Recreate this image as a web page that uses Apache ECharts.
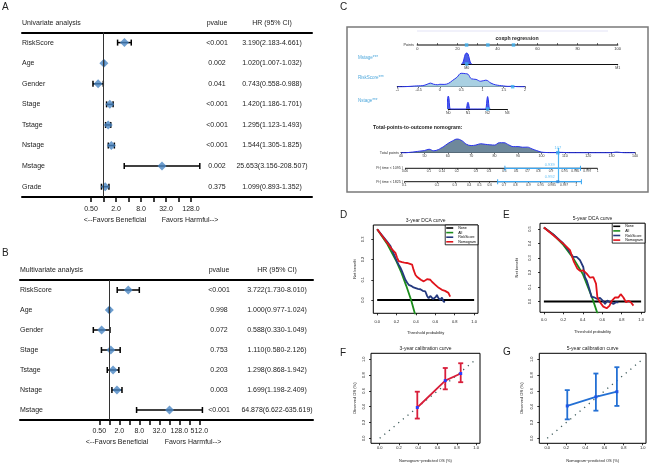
<!DOCTYPE html>
<html><head><meta charset="utf-8">
<script src="https://cdn.jsdelivr.net/npm/echarts@6.0.0/dist/echarts.min.js"></script>
<style>html,body{margin:0;padding:0;background:#fff;}#chart{width:650px;height:465px;}</style>
</head><body><div id="chart"></div>
<script>
// ================= DATA =================
// Panel A – univariate Cox regression
const uniVars  = ['RiskScore','Age','Gender','Stage','Tstage','Nstage','Mstage','Grade'];
const uniHR    = [3.190, 1.020, 0.743, 1.420, 1.295, 1.544, 25.653, 1.099];
const uniLow   = [2.183, 1.007, 0.558, 1.186, 1.123, 1.305, 3.156, 0.893];
const uniHigh  = [4.661, 1.032, 0.988, 1.701, 1.493, 1.825, 208.507, 1.352];
const uniP     = ['<0.001','0.002','0.041','<0.001','<0.001','<0.001','0.002','0.375'];
// Panel B – multivariate Cox regression
const multiVars = ['RiskScore','Age','Gender','Stage','Tstage','Nstage','Mstage'];
const multiHR   = [3.722, 1.000, 0.588, 1.110, 1.298, 1.699, 64.878];
const multiLow  = [1.730, 0.977, 0.330, 0.580, 0.868, 1.198, 6.622];
const multiHigh = [8.010, 1.024, 1.049, 2.126, 1.942, 2.409, 635.619];
const multiP    = ['<0.001','0.998','0.072','0.753','0.203','0.003','<0.001'];
// forest axis ticks / labels
const forestTicksA  = [0.5,1,2,4,8,16,32,64,128];
const forestLabA    = [0.5,2,8,32,128];
const forestLabTxtA = ['0.50','2.0','8.0','32.0','128.0'];
const forestTicksB  = [0.5,1,2,4,8,16,32,64,128,256,512];
const forestLabB    = [0.5,2,8,32,128,512];
const forestLabTxtB = ['0.50','2.0','8.0','32.0','128.0','512.0'];

// Panel C – nomogram
const pointsTicks  = [0,10,20,30,40,50,60,70,80,90,100];
const pointsLabels = [0,20,40,60,80,100];
const ptsObs       = [24.6, 48.0, 35.2];     // points of the example patient
const mstageLevels = ['M0','M1'];
const mstageDens   = [[-0.035,0],[-0.026,1],[-0.018,5],[-0.009,10],[0,11],[0.009,10],[0.018,5],[0.026,1],[0.035,0]];
const mstageObs    = 0;
const riskDens     = [[-1,0],[-0.9,0],[-0.8,0.1],[-0.7,0.3],[-0.6,0.6],[-0.5,0.8],[-0.4,1],[-0.3,2.2],[-0.22,3.3],[-0.15,2.3],[-0.05,1.8],[0,2.2],[0.1,2.1],[0.2,3],[0.3,5.8],[0.4,8.6],[0.5,12.3],[0.6,12],[0.66,11.5],[0.74,7.3],[0.85,6.7],[0.96,5],[1.08,6],[1.2,3.3],[1.31,1.7],[1.5,0.7],[1.6,0.3],[1.7,0.4],[1.8,0.1],[2,0]];
const riskObs      = 1.71;
const nstageLevels = ['N0','N1','N2','N3'];
const nstageDens   = [[-0.12,0],[-0.07,2],[-0.035,10],[0,12.5],[0.035,10],[0.07,2],[0.12,0],[0.88,0],[0.93,1],[0.965,5],[1,6.5],[1.035,5],[1.07,1],[1.12,0],[1.88,0],[1.93,2],[1.965,9],[2,12],[2.035,9],[2.07,2],[2.12,0]];
const nstageObs    = 2;
const totalDens    = [[40,0],[42,0],[44,0.4],[46,0.9],[48,1.5],[50,2],[52,3.3],[54,1.8],[56,3],[57,4.3],[58,5.5],[60,8.7],[62,11.2],[64,13],[66,11.5],[68,8],[70,6.8],[72,7.3],[74,8.5],[76,8],[78,7.5],[80,7.3],[82,9.5],[84,9.5],[86,7.5],[88,5.8],[90,5.8],[92,5.2],[94,5.3],[96,3.6],[98,2],[100,0.6],[102,0.2],[104,0.1],[106,0.1],[108,0.3],[110,0.2],[112,0],[130,0],[132,0.6],[134,0.2],[136,0],[140,0]];
const totalObs     = 107;
const pr1095Labels = ['0.06','0.1','0.14','0.2','0.3','0.4','0.5','0.6','0.7','0.8','0.9','0.95','0.985','0.997','1'];
const pr1095Pos    = [41.7,51.9,57.5,63.9,72.0,77.6,84.2,89.2,94.1,98.7,104.1,109.9,114.5,119.6,124.0];
const pr1825Labels = ['0.1','0.2','0.3','0.4','0.5','0.6','0.7','0.8','0.9','0.95','0.985','0.997','1'];
const pr1825Pos    = [41.4,55.4,63.0,69.1,73.5,77.9,84.0,88.9,94.5,99.7,104.4,109.7,114.8];
const prCiLow      = [84.4, 81.3];
const prCiHigh     = [116.7, 117.1];
const prObsText    = ['0.939', '0.992'];

// Panel D – 3-year DCA
const dca3None  = [[0,0],[1,0]];
const dca3All   = [[0,0.35],[0.1,0.28],[0.2,0.19],[0.25,0.135],[0.3,0.07],[0.35,0.0],[0.39,-0.07],[0.41,-0.1]];
const dca3Risk  = [[0,0.35],[0.05,0.32],[0.1,0.29],[0.137,0.267],[0.16,0.24],[0.188,0.208],[0.205,0.19],[0.222,0.175],[0.24,0.16],[0.257,0.142],[0.275,0.12],[0.291,0.1],[0.31,0.085],[0.325,0.075],[0.35,0.07],[0.375,0.062],[0.394,0.063],[0.42,0.055],[0.445,0.053],[0.47,0.045],[0.497,0.042],[0.515,0.02],[0.531,0.008],[0.548,0.02],[0.565,0.017],[0.575,0.005],[0.589,0.0],[0.605,0.015],[0.616,0.025],[0.63,0.01],[0.651,0.0],[0.668,0.012],[0.685,-0.008],[0.7,-0.01]];
const dca3Nomo  = [[0,0.35],[0.05,0.318],[0.1,0.285],[0.154,0.25],[0.17,0.245],[0.188,0.233],[0.205,0.21],[0.222,0.192],[0.24,0.19],[0.257,0.187],[0.28,0.185],[0.308,0.183],[0.33,0.18],[0.36,0.175],[0.375,0.15],[0.394,0.125],[0.41,0.115],[0.428,0.108],[0.45,0.1],[0.48,0.092],[0.5,0.1],[0.514,0.103],[0.53,0.1],[0.548,0.1],[0.565,0.09],[0.582,0.083],[0.6,0.075],[0.616,0.067],[0.635,0.06],[0.651,0.053],[0.668,0.05],[0.685,0.047],[0.7,0.045],[0.719,0.042],[0.735,0.035],[0.753,0.017]];
// Panel E – 5-year DCA
const dca5None  = [[0,0],[1,0]];
const dca5All   = [[0,0.51],[0.1,0.46],[0.2,0.39],[0.3,0.3],[0.4,0.19],[0.5,0.02],[0.56,-0.1]];
const dca5Risk  = [[0,0.51],[0.1,0.46],[0.2,0.40],[0.25,0.355],[0.3,0.308],[0.337,0.308],[0.371,0.285],[0.405,0.238],[0.422,0.169],[0.44,0.146],[0.467,0.088],[0.491,0.03],[0.515,0.03],[0.55,0.018],[0.577,0.025],[0.605,0.007],[0.629,-0.016],[0.653,0.007],[0.68,-0.005],[0.715,-0.016],[0.742,-0.005],[0.766,-0.005]];
const dca5Nomo  = [[0,0.51],[0.1,0.455],[0.216,0.389],[0.268,0.354],[0.309,0.273],[0.344,0.227],[0.371,0.211],[0.405,0.215],[0.44,0.192],[0.474,0.164],[0.508,0.169],[0.536,0.123],[0.55,0.03],[0.577,-0.005],[0.611,-0.035],[0.646,-0.046],[0.674,-0.03],[0.698,0.005],[0.732,0.028],[0.766,0.028],[0.79,0.051],[0.818,0.028],[0.845,-0.005],[0.87,0.005],[0.894,-0.005],[0.921,-0.028]];
const dcaNames  = ['None','All','RiskScore','Nomogram'];
const dcaTicksX = [0,0.2,0.4,0.6,0.8,1.0];
const dca3TicksY = [0,0.1,0.2,0.3];
const dca5TicksY = [0,0.1,0.2,0.3,0.4,0.5];
// Panels F, G – calibration
const calTicks  = [0,0.2,0.4,0.6,0.8,1.0];
const calDiag   = [[0,0],[1,1]];
const cal3Pred  = [0.39, 0.68, 0.84];
const cal3Obs   = [0.39, 0.73, 0.82];
const cal3Low   = [0.25, 0.62, 0.71];
const cal3High  = [0.59, 0.89, 0.95];
const cal5Pred  = [0.21, 0.51, 0.73];
const cal5Obs   = [0.41, 0.525, 0.59];
const cal5Low   = [0.24, 0.35, 0.41];
const cal5High  = [0.61, 0.82, 0.90];

// ================= BUILD =================
const FONT = 'Liberation Sans, Arial, Helvetica, sans-serif';
const grids = [], xAxes = [], yAxes = [], series = [], graphics = [], legends = [];
const LBLUE = '#3fb2f2';

function T(x, y, text, size, o) {
  o = o || {};
  const al = o.align || 'left';
  graphics.push({type:'text', x:x, y:y, silent:true, z:50,
    style:{text:text, fontSize:size, fontFamily:FONT, fontWeight:o.bold?'bold':'normal', fill:o.color||'#222',
      align:al, verticalAlign:'middle', textAlign:al, textVerticalAlign:'middle'}});
}

function addGrid(box, xo, yo) {
  const gi = grids.length;
  grids.push({left:box[0], top:box[2], width:box[1]-box[0], height:box[3]-box[2]});
  const xi = xAxes.length;
  xAxes.push(Object.assign({gridIndex:gi, type:'value', splitLine:{show:false}}, xo));
  const yi = yAxes.length;
  yAxes.push(Object.assign({gridIndex:gi, type:'value', splitLine:{show:false}}, yo));
  return {gi:gi, xi:xi, yi:yi};
}

// ---------- forest plots ----------
function ciH(params, api) {
  const y = api.value(2);
  const p1 = api.coord([api.value(0), y]);
  const p2 = api.coord([api.value(1), y]);
  const h = 3, st = {stroke:'#000', lineWidth:1.5};
  return {type:'group', children:[
    {type:'line', shape:{x1:p1[0],y1:p1[1],x2:p2[0],y2:p2[1]}, style:st},
    {type:'line', shape:{x1:p1[0],y1:p1[1]-h,x2:p1[0],y2:p1[1]+h}, style:st},
    {type:'line', shape:{x1:p2[0],y1:p2[1]-h,x2:p2[0],y2:p2[1]+h}, style:st}]};
}
function forest(c) {
  const gi = grids.length;
  grids.push({left:c.left, top:c.top, width:c.right-c.left, height:c.bottom-c.top});
  const tickV = c.ticks.map(Math.log2), labV = c.labTicks.map(Math.log2);
  const xi = xAxes.length;
  xAxes.push({gridIndex:gi, type:'value', min:c.xmin, max:c.xmax, splitLine:{show:false},
    axisLine:{show:true,onZero:false,lineStyle:{color:'#000',width:2}},
    axisTick:{show:true,customValues:tickV,length:5,lineStyle:{color:'#000',width:1.5}},
    axisLabel:{show:true,customValues:labV,margin:c.lm,fontSize:7,color:'#222',fontFamily:FONT,
      formatter:function(v){const k=labV.findIndex(t=>Math.abs(t-v)<1e-6);return k>=0?c.labTxt[k]:'';}}});
  xAxes.push({gridIndex:gi, type:'value', position:'top', min:0, max:1, splitLine:{show:false},
    axisLine:{show:true,onZero:false,lineStyle:{color:'#000',width:2}}, axisTick:{show:false}, axisLabel:{show:false}});
  const yi = yAxes.length;
  const idx = c.vars.map((_,i)=>String(i));
  const hrTxt = c.hr.map((h,i)=>h.toFixed(3)+'('+c.lo[i].toFixed(3)+'-'+c.hi[i].toFixed(3)+')');
  const lab = {margin:0, interval:0, fontSize:7, color:'#222', fontFamily:FONT};
  function base(extra){ return Object.assign({gridIndex:gi, type:'category', inverse:true, data:idx,
    axisLine:{show:false}, axisTick:{show:false}, splitLine:{show:false}}, extra); }
  yAxes.push(base({axisLabel:Object.assign({}, lab, {inside:true, align:'left', formatter:(v,i)=>c.vars[i]})}));
  yAxes.push(base({position:'right', offset:c.pOff, axisLabel:Object.assign({}, lab, {align:'center', formatter:(v,i)=>c.p[i]})}));
  yAxes.push(base({position:'right', offset:c.hOff, axisLabel:Object.assign({}, lab, {align:'center', formatter:(v,i)=>hrTxt[i]})}));
  series.push({type:'custom', xAxisIndex:xi, yAxisIndex:yi, renderItem:ciH, silent:true, z:2,
    encode:{x:[0,1], y:2}, data:c.lo.map((l,i)=>[Math.log2(l), Math.log2(c.hi[i]), i])});
  series.push({type:'scatter', xAxisIndex:xi, yAxisIndex:yi, symbol:'diamond', symbolSize:[9,9], silent:true, z:3,
    itemStyle:{color:'#4a86c3'}, data:c.hr.map((h,i)=>[Math.log2(h), i]),
    markLine:{silent:true, symbol:['none','none'], label:{show:false}, animation:false,
      lineStyle:{color:'#333', width:1, type:'solid'}, data:[{xAxis:0}]}});
  T(c.left, c.headY, c.title, 7);
  T(c.right + c.pOff, c.headY, 'pvalue', 7, {align:'center'});
  T(c.right + c.hOff, c.headY, 'HR (95% CI)', 7, {align:'center'});
  T(c.benX, c.favY, '<--Favors Beneficial', 7, {align:'center'});
  T(c.harmX, c.favY, 'Favors Harmful-->', 7, {align:'center'});
}

forest({left:22, right:312, top:32.3, bottom:197, xmin:-6.52, xmax:16.68, lm:9,
  ticks:forestTicksA, labTicks:forestLabA, labTxt:forestLabTxtA,
  vars:uniVars, hr:uniHR, lo:uniLow, hi:uniHigh, p:uniP, pOff:-95, hOff:-40,
  title:'Univariate analysis', headY:23.3, favY:220, benX:115, harmX:190});
forest({left:20, right:313, top:280, bottom:420, xmin:-8.93, xmax:20.37, lm:8,
  ticks:forestTicksB, labTicks:forestLabB, labTxt:forestLabTxtB,
  vars:multiVars, hr:multiHR, lo:multiLow, hi:multiHigh, p:multiP, pOff:-94, hOff:-36,
  title:'Multivariate analysis', headY:270, favY:441.7, benX:117, harmX:193});

// ---------- nomogram ----------
graphics.push({type:'rect', silent:true, z:1, shape:{x:347, y:27, width:301, height:165},
  style:{fill:'none', stroke:'#7a7a7a', lineWidth:1.5}});
graphics.push({type:'line', silent:true, z:1, shape:{x1:417, y1:31, x2:608, y2:31},
  style:{stroke:'#dcdcf4', lineWidth:0.8}});
T(517, 39, 'coxph regression', 5.2, {align:'center', bold:true});
const nLab = {fontSize:3.6, margin:1.5, color:'#333', fontFamily:FONT};
const nLine = {show:true, onZero:false, lineStyle:{color:'#111', width:1}};
const nTick = {show:true, length:1.5, lineStyle:{color:'#111', width:0.6}};
function dens(ax, data, fill, sm) {
  series.push({type:'line', xAxisIndex:ax.xi, yAxisIndex:ax.yi, data:data, symbol:'none', smooth:sm, clip:false, silent:true,
    lineStyle:{color:'#2b34ee', width:1}, areaStyle:{color:fill, opacity:1}, z:2});
}
function mark(ax, data, color, size, label) {
  const s = {type:'scatter', xAxisIndex:ax.xi, yAxisIndex:ax.yi, data:data, symbol:'rect', symbolSize:size, clip:false, silent:true,
    itemStyle:{color:color}, z:5};
  if (label) s.label = label;
  series.push(s);
}
// Points
const axPts = addGrid([417.3,617.7,35,45],
  {min:0, max:100, axisLine:{show:true,onZero:false,lineStyle:{color:'#555',width:1.5}},
   axisTick:Object.assign({}, nTick, {customValues:pointsTicks, inside:true, length:2}),
   axisLabel:Object.assign({}, nLab, {customValues:pointsLabels, fontSize:4})},
  {show:false, min:0, max:1});
mark(axPts, ptsObs.map(v=>[v,0]), LBLUE, 3.5);
T(414, 45, 'Points', 3.8, {align:'right', color:'#333'});
// Mstage
const axM = addGrid([461.4,617.7,52,64],
  {min:-0.035, max:1, axisLine:nLine, axisTick:Object.assign({}, nTick, {customValues:[0,1]}),
   axisLabel:Object.assign({}, nLab, {customValues:[0,1], formatter:v=>mstageLevels[Math.round(v)]})},
  {show:false, min:0, max:12});
dens(axM, mstageDens, '#4a5fe6', 0.3);
mark(axM, [[mstageObs,0]], LBLUE, 3.5);
T(358, 58, 'Mstage***', 4.5, {color:'#4fa8dc'});
// RiskScore
const axR = addGrid([397.3,525,72,86.7],
  {min:-1, max:2, interval:0.5, axisLine:nLine, axisTick:nTick,
   axisLabel:Object.assign({}, nLab, {formatter:v=>String(v)})},
  {show:false, min:0, max:13.5});
dens(axR, riskDens, '#a9d0e2', 0.4);
mark(axR, [[riskObs,0]], LBLUE, 3.5);
T(358, 78, 'RiskScore***', 4.5, {color:'#4fa8dc'});
// Nstage
const axN = addGrid([448.3,507.3,95,109],
  {min:0, max:3, interval:1, axisLine:nLine, axisTick:nTick,
   axisLabel:Object.assign({}, nLab, {formatter:v=>nstageLevels[Math.round(v)]})},
  {show:false, min:0, max:13.5});
dens(axN, nstageDens, '#4a5fe6', 0.3);
mark(axN, [[nstageObs,0]], LBLUE, 3.5);
T(358, 101, 'Nstage***', 4.5, {color:'#4fa8dc'});
// Total points
T(373, 128, 'Total-points-to-outcome nomogram:', 5.2, {bold:true});
const axObs = addGrid([401,635,148,182], {show:false, min:40, max:140}, {show:false, min:0, max:1});
series.push({type:'scatter', xAxisIndex:axObs.xi, yAxisIndex:axObs.yi, data:[[totalObs,1]], symbolSize:0, silent:true,
  markLine:{silent:true, symbol:['none','none'], label:{show:false}, animation:false,
    lineStyle:{color:'#4cb4f5', width:1.2, type:'solid'}, data:[{xAxis:totalObs}]}});
const axT = addGrid([401,635,138,152.7],
  {min:40, max:140, interval:10, axisLine:nLine, axisTick:nTick, axisLabel:nLab},
  {show:false, min:0, max:14});
dens(axT, totalDens, '#6e889b', 0.4);
mark(axT, [[totalObs,0]], '#3aa8f0', 3.5,
  {show:true, formatter:String(totalObs), position:'top', distance:1.5, fontSize:4, color:LBLUE, fontFamily:FONT});
T(399, 152.7, 'Total points', 3.8, {align:'right', color:'#333'});
// Pr axes
function prRow(box, pos, labels, k, name) {
  const ax = addGrid(box,
    {min:40, max:140, axisLine:{show:false, onZero:false},
     axisTick:Object.assign({}, nTick, {customValues:pos}),
     axisLabel:Object.assign({}, nLab, {customValues:pos, fontSize:3.2,
       formatter:function(v){const i=pos.findIndex(t=>Math.abs(t-v)<1e-6);return i>=0?labels[i]:'';}})},
    {show:false, min:0, max:1});
  series.push({type:'line', xAxisIndex:ax.xi, yAxisIndex:ax.yi, data:[[pos[0],0],[pos[pos.length-1],0]],
    symbol:'none', silent:true, clip:false, lineStyle:{color:'#111', width:1}, z:2});
  series.push({type:'line', xAxisIndex:ax.xi, yAxisIndex:ax.yi, data:[[prCiLow[k],0],[prCiHigh[k],0]],
    symbol:'rect', symbolSize:[1,5], showSymbol:true, silent:true, clip:false,
    lineStyle:{color:'#39a6f2', width:1.3}, itemStyle:{color:'#39a6f2'}, z:3});
  mark(ax, [[totalObs,0]], k===1 ? '#2f86d8' : 'rgba(0,0,0,0)', k===1 ? 3 : 0,
    {show:true, formatter:prObsText[k], position:'top', distance:1.5, offset:[-8,0], fontSize:4, color:LBLUE, fontFamily:FONT});
  T(403, box[3], name, 3.6, {align:'right', color:'#333'});
}
prRow([401,635,160,168.3], pr1095Pos, pr1095Labels, 0, 'Pr( time < 1095 )');
prRow([401,635,173.4,181.7], pr1825Pos, pr1825Labels, 1, 'Pr( time < 1825 )');

// ---------- R-style panels ----------
function rplot(c) {
  const gi = grids.length;
  grids.push({left:c.box[0], top:c.box[2], width:c.box[1]-c.box[0], height:c.box[3]-c.box[2],
    show:true, borderColor:'#000', borderWidth:1, backgroundColor:'rgba(0,0,0,0)'});
  const lab = {fontSize:4, color:'#222', fontFamily:FONT};
  const xi = xAxes.length;
  xAxes.push({gridIndex:gi, type:'value', min:c.xr[0], max:c.xr[1], splitLine:{show:false},
    axisLine:{show:false, onZero:false},
    axisTick:{show:true, customValues:c.xt, length:2, lineStyle:{color:'#000', width:0.8}},
    axisLabel:Object.assign({customValues:c.xt, margin:c.xm, formatter:v=>v.toFixed(1)}, lab),
    name:c.xname, nameLocation:'middle', nameGap:c.xg, nameTextStyle:lab});
  const yi = yAxes.length;
  yAxes.push({gridIndex:gi, type:'value', min:c.yr[0], max:c.yr[1], splitLine:{show:false},
    axisLine:{show:false, onZero:false},
    axisTick:{show:true, customValues:c.yt, length:2, lineStyle:{color:'#000', width:0.8}},
    axisLabel:Object.assign({customValues:c.yt, margin:c.ym, rotate:90, formatter:v=>v.toFixed(1)}, lab),
    name:c.yname, nameLocation:'middle', nameGap:c.yg, nameRotate:90, nameTextStyle:lab});
  T((c.box[0]+c.box[1])/2, c.titleY, c.title, 5, {align:'center'});
  T(c.letterX, c.letterY, c.letter, 10, {color:'#222'});
  return {xi:xi, yi:yi};
}
function ln(ax, name, data, color, w, z, dash) {
  const s = {type:'line', xAxisIndex:ax.xi, yAxisIndex:ax.yi, data:data, symbol:'none', silent:true,
    lineStyle:{color:color, width:w, type:dash||'solid'}, itemStyle:{color:color}, z:z||2};
  if (name) s.name = name;
  series.push(s);
}
const dcaCols = ['#000000','#1c8c1c','#24397e','#e0141c'];
const axD = rplot({box:[373.3,478,225,313.3], xr:[-0.04,1.04], yr:[-0.066,0.371], xt:dcaTicksX, yt:dca3TicksY,
  xm:7, ym:8, xg:18, yg:16, xname:'Threshold probability', yname:'Net benefit',
  title:'3-year DCA curve', titleY:220.7, letter:'D', letterX:340, letterY:215});
[dca3None, dca3All, dca3Risk, dca3Nomo].forEach((d,i)=>ln(axD, dcaNames[i], d, dcaCols[i], i===0?2:1.8, 2+i));
const axE = rplot({box:[540,645,223.3,312.3], xr:[-0.04,1.04], yr:[-0.074,0.539], xt:dcaTicksX, yt:dca5TicksY,
  xm:5.5, ym:8, xg:18, yg:21, xname:'Threshold probability', yname:'Net benefit',
  title:'5-year DCA curve', titleY:219, letter:'E', letterX:503, letterY:215});
[dca5None, dca5All, dca5Risk, dca5Nomo].forEach((d,i)=>ln(axE, dcaNames[i], d, dcaCols[i], i===0?2:1.8, 2+i));
function dcaLegend(right, top) {
  legends.push({right:right, top:top, orient:'vertical', data:dcaNames, icon:'rect', itemWidth:7, itemHeight:1.6,
    itemGap:0.6, padding:[1,2,1,1], borderColor:'#000', borderWidth:0.8, backgroundColor:'#fff', selectedMode:false,
    textStyle:{fontSize:3.6, fontFamily:FONT, color:'#000'}, z:10});
}
dcaLegend(650-478, 225);
dcaLegend(5, 223.3);

function ciV(color) {
  return function(params, api) {
    const x = api.value(0);
    const p1 = api.coord([x, api.value(1)]), p2 = api.coord([x, api.value(2)]);
    const h = 2.5, st = {stroke:color, lineWidth:1.8};
    return {type:'group', children:[
      {type:'line', shape:{x1:p1[0],y1:p1[1],x2:p2[0],y2:p2[1]}, style:st},
      {type:'line', shape:{x1:p1[0]-h,y1:p1[1],x2:p1[0]+h,y2:p1[1]}, style:st},
      {type:'line', shape:{x1:p2[0]-h,y1:p2[1],x2:p2[0]+h,y2:p2[1]}, style:st}]};
  };
}
function calib(ax, pred, obs, lo, hi, color, ptColor) {
  ln(ax, null, calDiag, '#3d5a5a', 1.3, 2, [1.2,4.8]);
  series.push({type:'custom', xAxisIndex:ax.xi, yAxisIndex:ax.yi, renderItem:ciV(color), silent:true, z:3,
    encode:{x:0, y:[1,2]}, data:pred.map((p,i)=>[p, lo[i], hi[i]])});
  series.push({type:'line', xAxisIndex:ax.xi, yAxisIndex:ax.yi, data:pred.map((p,i)=>[p, obs[i]]), silent:true, z:4,
    symbol:'rect', symbolSize:3, showSymbol:true, lineStyle:{color:color, width:1.8}, itemStyle:{color:ptColor}});
}
const axF = rplot({box:[371,480,353.3,443.3], xr:[-0.09,1.04], yr:[-0.063,1.076], xt:calTicks, yt:calTicks,
  xm:3, ym:5.5, xg:16, yg:14, xname:'Nomogram\u2212predicted OS (%)', yname:'Observed OS (%)',
  title:'3-year calibration curve', titleY:349, letter:'F', letterX:340, letterY:353});
calib(axF, cal3Pred, cal3Obs, cal3Low, cal3High, '#d81e3a', '#2a3cff');
const axG = rplot({box:[539.3,646,353.3,443.3], xr:[-0.083,1.035], yr:[-0.063,1.076], xt:calTicks, yt:calTicks,
  xm:3, ym:5.5, xg:16, yg:15, xname:'Nomogram\u2212predicted OS (%)', yname:'Observed OS (%)',
  title:'5-year calibration curve', titleY:349, letter:'G', letterX:503, letterY:352.7});
calib(axG, cal5Pred, cal5Obs, cal5Low, cal5High, '#2470d4', '#1f55e8');

// panel letters A, B, C
T(2, 7, 'A', 10);
T(2, 253, 'B', 10);
T(340, 7, 'C', 10);

const chart = echarts.init(document.getElementById('chart'), null, {renderer:'canvas', width:650, height:465});
chart.setOption({
  animation:false, backgroundColor:'#fff',
  textStyle:{fontFamily:FONT},
  grid:grids, xAxis:xAxes, yAxis:yAxes, series:series, legend:legends, graphic:graphics
});
</script></body></html>
